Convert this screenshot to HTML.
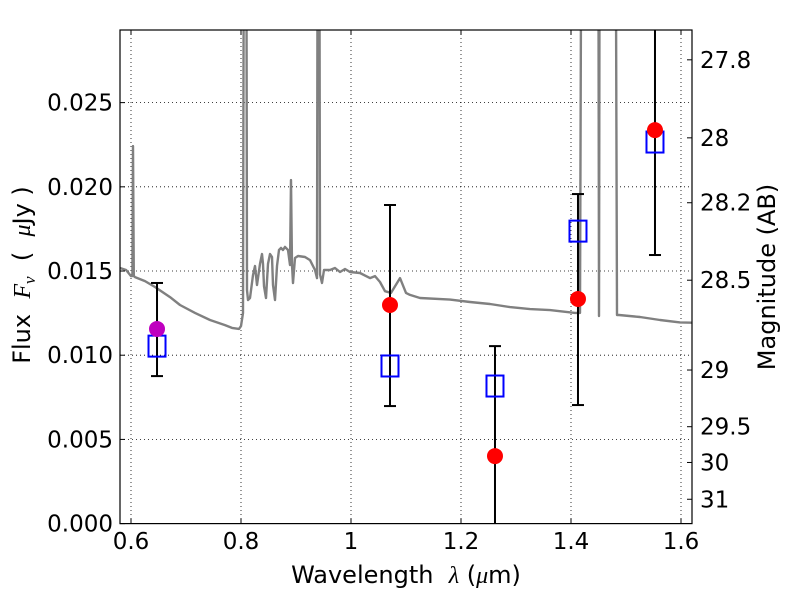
<!DOCTYPE html>
<html><head><meta charset="utf-8"><style>
body{margin:0;background:#fff}
svg{display:block;font-family:"DejaVu Sans","Liberation Sans",sans-serif}
</style></head><body>
<svg id="chart" width="800" height="600">
<g id="grid"></g>
<g id="spec"></g>
<g id="pts"></g>
<rect x="120" y="30" width="572" height="493.6" fill="none" stroke="#000" stroke-width="1.2"/>
<g id="axes"></g>
<text x="406" y="583" font-size="24" text-anchor="middle" xml:space="preserve">Wavelength  <tspan font-style="italic" font-family="Liberation Serif,serif">λ</tspan> (<tspan font-style="italic" font-family="Liberation Serif,serif">μ</tspan>m)</text>
<text transform="translate(30,275) rotate(-90)" font-size="24" text-anchor="middle" xml:space="preserve">Flux  <tspan font-style="italic" font-family="Liberation Serif,serif">F</tspan><tspan font-style="italic" font-family="Liberation Serif,serif" font-size="17" dy="5">ν</tspan><tspan dy="-5">  (  </tspan><tspan font-style="italic" font-family="Liberation Serif,serif">μ</tspan>Jy )</text>
<text transform="translate(775,277) rotate(-90)" font-size="24" text-anchor="middle">Magnitude (AB)</text>
</svg>
<script>
const NS="http://www.w3.org/2000/svg";
const xTicks=[0.6,0.8,1.0,1.2,1.4,1.6];
const xTickLabels=["0.6","0.8","1","1.2","1.4","1.6"];
const yTicks=[0,0.005,0.01,0.015,0.02,0.025];
const yTickLabels=["0.000","0.005","0.010","0.015","0.020","0.025"];
const magTicks=[27.8,28,28.2,28.5,29,29.5,30,31];
const magTickLabels=["27.8","28","28.2","28.5","29","29.5","30","31"];
const specLam=[0.580,0.591,0.600,0.6025,0.6036,0.6050,0.6073,0.6255,0.6436,0.6709,0.6891,0.7164,0.7436,0.7709,0.7836,0.7964,0.8,0.8036,0.8060,0.8073,0.8090,0.8109,0.8127,0.8164,0.8218,0.8255,0.8291,0.8345,0.8382,0.84,0.8418,0.8455,0.8491,0.8527,0.8564,0.8582,0.8618,0.8655,0.8691,0.8727,0.8764,0.88,0.8855,0.8891,0.8909,0.8927,0.8945,0.8982,0.9036,0.9164,0.9255,0.9345,0.9382,0.9400,0.9418,0.9436,0.9473,0.9509,0.9618,0.9709,0.98,0.9891,0.9982,1.0164,1.0345,1.0436,1.0527,1.0618,1.0727,1.0891,1.1,1.1073,1.1255,1.18,1.2164,1.2527,1.2891,1.3255,1.3618,1.4073,1.4164,1.4200,1.4491,1.4509,1.4527,1.4800,1.4836,1.4873,1.5255,1.5618,1.5982,1.6200];
const specFlux=[0.01518,0.01506,0.01470,0.01470,0.02242,0.01470,0.01464,0.01440,0.01405,0.01345,0.01298,0.01251,0.01209,0.01179,0.01162,0.01156,0.01173,0.01250,0.05,0.05,0.05,0.01387,0.01328,0.01340,0.01476,0.01530,0.01417,0.01542,0.01601,0.01542,0.01410,0.01340,0.01542,0.01601,0.01583,0.01417,0.01328,0.01530,0.01625,0.01637,0.01625,0.01643,0.01625,0.01536,0.02040,0.01536,0.01429,0.01577,0.01589,0.01583,0.01565,0.01506,0.01458,0.05,0.05,0.01480,0.01429,0.01506,0.01506,0.01518,0.01494,0.01512,0.01494,0.01488,0.01458,0.01470,0.01435,0.01380,0.01370,0.01458,0.01370,0.01358,0.01340,0.01330,0.01316,0.01304,0.01286,0.01274,0.01268,0.01251,0.01251,0.05,0.05,0.01233,0.05,0.05,0.01239,0.01239,0.01227,0.01209,0.01195,0.01193];
const ptLam=[0.6473,1.0709,1.2618,1.4127,1.5527];
const obsFlux=[0.01156,0.01298,0.00401,0.01334,0.02337];
const obsLow=[0.00876,0.00698,-0.002,0.00704,0.01595];
const obsHigh=[0.01429,0.01892,0.01054,0.01957,0.032];
const obsColor=["#bf00bf","red","red","red","red"];
const modelFlux=[0.01054,0.00936,0.00817,0.01737,0.02266];

const X0=0.58,X1=1.62,Y0=0,Y1=0.029313,L=120,R=692,T=30,B=523.6;
const xs=v=>L+(v-X0)/(X1-X0)*(R-L);
const ys=v=>B-(v-Y0)/(Y1-Y0)*(B-T);
const magToFlux=m=>Math.pow(10,(23.9-m)/2.5);
function mk(tag,attrs,parent){const e=document.createElementNS(NS,tag);for(const k in attrs)e.setAttribute(k,attrs[k]);parent.appendChild(e);return e;}
const grid=document.getElementById('grid'),axes=document.getElementById('axes');
const clipDef=mk('defs',{},document.getElementById('chart'));
const cp=mk('clipPath',{id:'clip'},clipDef);mk('rect',{x:L,y:T,width:R-L,height:B-T},cp);

xTicks.forEach((v,i)=>{const x=xs(v);
 let g=mk('line',{x1:x,x2:x,y1:T,y2:B,stroke:'#000','stroke-width':0.8,'stroke-dasharray':'1,3'},grid);
 
 mk('line',{x1:x,x2:x,y1:B,y2:B-5,stroke:'#000'},axes);mk('line',{x1:x,x2:x,y1:T,y2:T+5,stroke:'#000'},axes);
 const t=mk('text',{x:x,y:549,'font-size':23,'text-anchor':'middle'},axes);t.textContent=xTickLabels[i];
 });
yTicks.forEach((v,i)=>{const y=ys(v);
 let g=mk('line',{x1:L,x2:R,y1:y,y2:y,stroke:'#000','stroke-width':0.8,'stroke-dasharray':'1,3'},grid);
 
 mk('line',{x1:L,x2:L+5,y1:y,y2:y,stroke:'#000'},axes);
 const t=mk('text',{x:L-7,y:y+8,'font-size':23,'text-anchor':'end'},axes);t.textContent=yTickLabels[i];
 });
magTicks.forEach((m,i)=>{const y=ys(magToFlux(m));
 mk('line',{x1:R,x2:R-5,y1:y,y2:y,stroke:'#000'},axes);
 const t=mk('text',{x:R+8,y:y+8,'font-size':23},axes);t.textContent=magTickLabels[i];
 });

const spec=document.getElementById('spec');
const d=specLam.map((l,i)=>(i?'L':'M')+xs(l).toFixed(1)+','+ys(specFlux[i]).toFixed(1)).join(' ');
const sp=mk('path',{d:d,fill:'none',stroke:'#808080','stroke-width':2.4,'stroke-linejoin':'round','clip-path':'url(#clip)'},spec);


const pts=document.getElementById('pts');
ptLam.forEach((l,i)=>{const x=xs(l);
 const eb=mk('line',{x1:x,x2:x,y1:ys(obsLow[i]),y2:ys(obsHigh[i]),stroke:'#000','stroke-width':2,'clip-path':'url(#clip)'},pts);
 
 [obsLow[i],obsHigh[i]].forEach(v=>{if(v>Y0&&v<Y1)mk('line',{x1:x-6,x2:x+6,y1:ys(v),y2:ys(v),stroke:'#000','stroke-width':2},pts);});
 const r=mk('rect',{x:x-8.5,y:ys(modelFlux[i])-10.5,width:17,height:21,fill:'none',stroke:'#0000ff','stroke-width':2},pts);
 
 const c=mk('circle',{cx:x,cy:ys(obsFlux[i]),r:8,fill:obsColor[i]},pts);
 
});
</script>
</body></html>
